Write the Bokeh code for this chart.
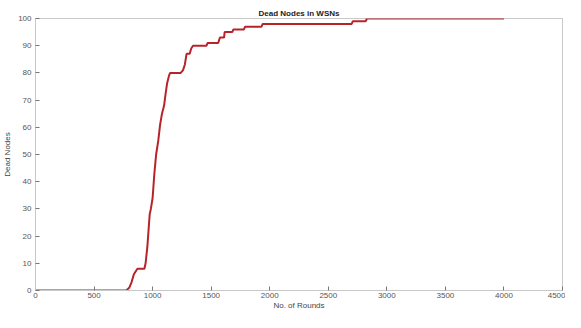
from bokeh.plotting import figure
from bokeh.models import Range1d, FixedTicker, Title
from bokeh.embed import file_html
from bokeh.resources import INLINE

rounds = [0, 775, 800, 820, 840, 870, 930, 940, 955, 965, 975, 985, 1000, 1015, 1030,
          1048, 1064, 1080, 1098, 1110, 1123, 1140, 1150, 1240, 1260, 1275, 1290, 1316,
          1330, 1345, 1460, 1470, 1560, 1575, 1610, 1615, 1680, 1690, 1780, 1790, 1930,
          1940, 2700, 2710, 2820, 2830, 4000]
dead_nodes = [0, 0, 1, 3, 6, 8, 8, 10, 16, 22, 28, 30, 34, 43, 50,
              55, 61, 65, 68, 72, 76, 79, 80, 80, 81, 83, 87, 87,
              89, 90, 90, 91, 91, 93, 93, 95, 95, 96, 96, 97, 97,
              98, 98, 99, 99, 100, 100]
x_ticks = [0, 500, 1000, 1500, 2000, 2500, 3000, 3500, 4000, 4500]
y_ticks = [0, 10, 20, 30, 40, 50, 60, 70, 80, 90, 100]

FONT = "Liberation Sans"
AX = "#c8c8c8"
LBL = "#555555"

p = figure(width=565, height=312, output_backend="svg", toolbar_location=None,
           x_range=Range1d(0, 4500), y_range=Range1d(0, 100),
           min_border_left=35, min_border_right=3, min_border_top=18, min_border_bottom=18,
           background_fill_color="white", border_fill_color="white")
p.title = Title(text="Dead Nodes in WSNs", align="center", text_font=FONT,
                text_font_size="8px", text_font_style="bold", text_color="#222222",
                standoff=2, offset=0)
p.outline_line_color = AX
p.xgrid.visible = False
p.ygrid.visible = False

p.line(rounds, dead_nodes, line_color="#b8232a", line_width=2)

bottom = p.below[0]
left = p.left[0]
bottom.ticker = FixedTicker(ticks=x_ticks)
bottom.axis_label = "No. of Rounds"
left.ticker = FixedTicker(ticks=y_ticks)
left.axis_label = "Dead Nodes"

for ax in [bottom, left]:
    ax.axis_line_color = AX
    ax.major_tick_line_color = "#777777"
    ax.major_tick_in = 4
    ax.major_tick_out = 0
    ax.minor_tick_line_color = None
    ax.major_label_text_font = FONT
    ax.major_label_text_font_size = "8px"
    ax.major_label_text_color = LBL
    ax.axis_label_text_font = FONT
    ax.axis_label_text_font_size = "8px"
    ax.axis_label_text_font_style = "normal"
    ax.axis_label_text_color = "#444444"
    ax.major_label_standoff = 2
    ax.axis_label_standoff = 0
left.major_label_standoff = 4
left.axis_label_standoff = 3

open("out.html", "w").write(file_html(p, INLINE))
